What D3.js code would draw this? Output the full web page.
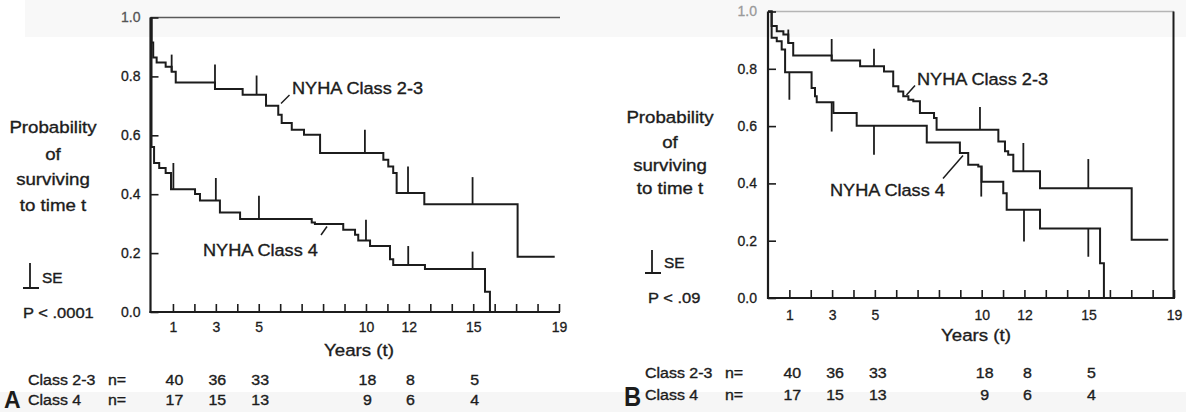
<!DOCTYPE html>
<html>
<head>
<meta charset="utf-8">
<script src="https://cdn.jsdelivr.net/npm/d3@7"></script>
<style>
  html, body { margin: 0; padding: 0; background: #fff; }
  svg { display: block; font-family: "Liberation Sans", Arial, Helvetica, sans-serif; }
</style>
</head>
<body>
<svg id="chart" width="1186" height="412"></svg>
<script>
// ---------------- data ----------------
const nYears = [1, 3, 5, 10, 12, 15];
const nClass23 = [40, 36, 33, 18, 8, 5];
const nClass4 = [17, 15, 13, 9, 6, 4];
const xTickYears = d3.range(1, 20);
const xTickLabels = [1, 3, 5, 10, 12, 15, 19];
const yTickValues = [0, 0.2, 0.4, 0.6, 0.8, 1.0];

// Panel A  (P < .0001)
const aC23Times = [0, 0.08, 0.24, 0.66, 0.94, 1.13, 2.96, 4.25, 5.34, 5.91, 6.07, 6.54, 7.11, 7.86, 10.81, 11.04, 11.27, 11.43, 12.72, 17.07];
const aC23Surv  = [0.915, 0.864, 0.847, 0.833, 0.816, 0.779, 0.757, 0.738, 0.70, 0.67, 0.642, 0.619, 0.602, 0.54, 0.517, 0.494, 0.472, 0.404, 0.366, 0.188];
const aC23End = 18.8;
const aC23SeTimes = [0.94, 2.96, 4.9, 9.95, 11.96, 14.97];
const aC23SeEnd   = [0.874, 0.84, 0.803, 0.619, 0.494, 0.458];

const aC4Times = [0, 0.12, 0.36, 0.66, 0.91, 2.03, 2.26, 3.19, 4.13, 7.47, 7.62, 8.94, 9.49, 9.64, 10.19, 11.12, 11.27, 12.75, 15.55, 15.78];
const aC4Surv  = [0.56, 0.506, 0.489, 0.472, 0.417, 0.401, 0.379, 0.338, 0.316, 0.304, 0.299, 0.279, 0.262, 0.243, 0.224, 0.179, 0.16, 0.146, 0.069, 0];
const aC4End = 15.78;
const aC4SeTimes = [1.02, 3.0, 5.01, 10.0, 11.97, 14.97];
const aC4SeEnd   = [0.506, 0.455, 0.395, 0.313, 0.224, 0.205];

// Panel B  (P < .09)
const bC23Times = [0.17, 0.41, 0.72, 0.95, 1.18, 2.98, 4.31, 5.43, 5.86, 6.10, 6.33, 6.57, 6.80, 7.11, 7.77, 7.89, 10.78, 11.09, 11.24, 11.48, 12.73, 17.02];
const bC23Surv  = [0.949, 0.931, 0.920, 0.89, 0.846, 0.829, 0.809, 0.791, 0.739, 0.721, 0.704, 0.692, 0.687, 0.646, 0.628, 0.587, 0.546, 0.512, 0.50, 0.442, 0.383, 0.203];
const bC23End = 18.73;
const bC23SeTimes = [0.95, 2.98, 4.96, 9.92, 11.95, 14.99];
const bC23SeEnd   = [0.937, 0.904, 0.87, 0.667, 0.541, 0.485];

const bC4Times = [0.17, 0.41, 0.64, 0.80, 2.04, 2.20, 2.28, 3.06, 4.15, 7.43, 8.98, 9.37, 9.84, 10.0, 11.01, 11.17, 12.73, 15.54, 15.72];
const bC4Surv  = [0.908, 0.896, 0.867, 0.788, 0.733, 0.704, 0.683, 0.646, 0.601, 0.543, 0.506, 0.465, 0.459, 0.406, 0.366, 0.308, 0.243, 0.121, 0];
const bC4End = 15.72;
const bC4SeTimes = [1.0, 2.98, 4.96, 9.98, 11.98, 14.99];
const bC4SeEnd   = [0.692, 0.581, 0.50, 0.354, 0.197, 0.144];

// ---------------- drawing ----------------
const svg = d3.select("#chart");
const INK = "#1c1c1c";
const SX = 1.1;

// faint scan background bands
svg.append("rect").attr("x", 25).attr("y", 0).attr("width", 1161).attr("height", 37).attr("fill", "#f8f8f8");
svg.append("rect").attr("x", 0).attr("y", 392).attr("width", 1186).attr("height", 20).attr("fill", "#f6f6f6");

function label(g, x, y, text, o = {}) {
  return g.append("text")
    .attr("transform", `translate(${x},${y}) scale(${o.sx || SX},${o.sy || 1})`)
    .attr("font-size", o.size || 16)
    .attr("text-anchor", o.anchor || "start")
    .attr("font-weight", o.weight || "normal")
    .attr("fill", o.fill || INK)
    .attr("stroke", o.fill || INK)
    .attr("stroke-width", o.weight === "bold" ? 0 : 0.35)
    .text(text);
}

function level(times, surv, t) {
  let s = 1;
  for (let i = 0; i < times.length; i++) if (times[i] <= t) s = surv[i];
  return s;
}

function drawPanel(p) {
  const g = svg.append("g");
  const x = d3.scaleLinear().domain([0, 19]).range(p.xRange);
  const y = d3.scaleLinear().domain([0, 1]).range(p.yRange);

  // frame
  g.append("line").attr("x1", p.axisX).attr("x2", p.topEnd).attr("y1", y(1)).attr("y2", y(1))
    .attr("stroke", p.topColor).attr("stroke-width", 1.6);
  if (p.rightFrame) {
    g.append("line").attr("x1", p.xRange[1] - 0.5).attr("x2", p.xRange[1] - 0.5).attr("y1", y(1)).attr("y2", y(0) + 1)
      .attr("stroke", INK).attr("stroke-width", 2);
  }

  // x axis
  const xAxis = d3.axisBottom(x).tickValues(xTickYears)
    .tickFormat(d => xTickLabels.includes(d) ? d : "")
    .tickSizeInner(-8).tickSizeOuter(0).tickPadding(p.xPad);
  const xg = g.append("g").attr("transform", `translate(0,${y(0)})`).call(xAxis);
  xg.select(".domain").remove();
  xg.selectAll(".tick line").attr("stroke", INK).attr("stroke-width", 1.6);
  xg.selectAll(".tick text").attr("font-size", 14).attr("fill", INK).attr("stroke", INK).attr("stroke-width", 0.3)
    .attr("font-family", "Liberation Sans, Arial, sans-serif");
  g.append("line").attr("x1", p.axisX - 1).attr("x2", p.xRange[1] + 1).attr("y1", y(0)).attr("y2", y(0))
    .attr("stroke", INK).attr("stroke-width", 2.2);

  // y axis
  const yAxis = d3.axisLeft(y).tickValues(yTickValues).tickFormat(d3.format(".1f"))
    .tickSizeInner(-8).tickSizeOuter(0).tickPadding(p.yPad);
  const yg = g.append("g").attr("transform", `translate(${p.axisX},0)`).call(yAxis);
  yg.select(".domain").remove();
  yg.selectAll(".tick line").attr("stroke", INK).attr("stroke-width", 1.6);
  yg.selectAll(".tick text").attr("font-size", 14)
    .attr("font-family", "Liberation Sans, Arial, sans-serif")
    .attr("fill", d => d === 1 ? p.oneColor : INK)
    .attr("stroke", d => d === 1 ? p.oneColor : INK).attr("stroke-width", 0.3);
  g.append("line").attr("x1", p.axisX).attr("x2", p.axisX).attr("y1", y(1)).attr("y2", y(0) + 1)
    .attr("stroke", INK).attr("stroke-width", 2.2);

  // survival curves
  const line = d3.line().x(d => x(d[0])).y(d => y(d[1])).curve(d3.curveStepAfter);
  p.curves.forEach(c => {
    const pts = [[0, 1]];
    c.times.forEach((t, i) => pts.push([t, c.surv[i]]));
    pts.push([c.end, c.surv[c.surv.length - 1]]);
    g.append("path").attr("d", line(pts)).attr("fill", "none")
      .attr("stroke", INK).attr("stroke-width", 2).attr("stroke-linejoin", "miter");
    c.seTimes.forEach((t, i) => {
      g.append("line")
        .attr("x1", x(t)).attr("x2", x(t))
        .attr("y1", y(level(c.times, c.surv, t))).attr("y2", y(c.seEnd[i]))
        .attr("stroke", INK).attr("stroke-width", 1.8);
    });
  });

  // curve labels + leaders
  p.notes.forEach(n => {
    label(g, n.x, n.y, n.text, { size: 16.5 });
    g.append("line").attr("x1", n.l[0]).attr("y1", n.l[1]).attr("x2", n.l[2]).attr("y2", n.l[3])
      .attr("stroke", INK).attr("stroke-width", 1.5);
  });

  // y title
  ["Probability", "of", "surviving", "to time t"].forEach((t, i) =>
    label(g, p.titleX, p.titleY[i], t, { size: 17, anchor: "middle" }));

  // SE key
  const k = p.se;
  g.append("line").attr("x1", k.x).attr("x2", k.x).attr("y1", k.y0).attr("y2", k.y1).attr("stroke", INK).attr("stroke-width", 1.8);
  g.append("line").attr("x1", k.x - 7).attr("x2", k.x + 9).attr("y1", k.y1).attr("y2", k.y1).attr("stroke", INK).attr("stroke-width", 2);
  label(g, k.x + 12, k.y1 - 5, "SE", { size: 14 });
  label(g, p.pX, p.pY, p.pText, { size: 15 });

  // x title
  label(g, p.yearsX, p.yearsY, "Years (t)", { size: 17, anchor: "middle" });

  // number at risk
  label(g, p.nX, p.nY[0], "Class 2-3", { size: 14.5 });
  label(g, p.nX, p.nY[1], "Class 4", { size: 14.5 });
  label(g, p.nEqX, p.nY[0], "n=", { size: 14.5 });
  label(g, p.nEqX, p.nY[1], "n=", { size: 14.5 });
  nYears.forEach((yr, i) => {
    label(g, x(yr) + p.nOff, p.nY[0], nClass23[i], { size: 14.5, anchor: "middle" });
    label(g, x(yr) + p.nOff, p.nY[1], nClass4[i], { size: 14.5, anchor: "middle" });
  });

  // panel letter
  label(g, p.letter.x, p.letter.y, p.letter.t, { size: p.letter.size, weight: "bold", sx: p.letter.sx, sy: p.letter.sy });
}

drawPanel({
  xRange: [151.5, 559], yRange: [312, 17.5], axisX: 150.5, topEnd: 560, topColor: "#5a5a5a",
  rightFrame: false, oneColor: "#555", xPad: 10, yPad: 10,
  curves: [
    { times: aC23Times, surv: aC23Surv, end: aC23End, seTimes: aC23SeTimes, seEnd: aC23SeEnd },
    { times: aC4Times, surv: aC4Surv, end: aC4End, seTimes: aC4SeTimes, seEnd: aC4SeEnd }
  ],
  notes: [
    { text: "NYHA Class 2-3", x: 292, y: 94, l: [281, 103.5, 289.5, 95] },
    { text: "NYHA Class 4", x: 203, y: 256, l: [321, 235, 327, 226.5] }
  ],
  titleX: 53, titleY: [133, 160, 185, 211],
  se: { x: 30, y0: 263, y1: 288 },
  pX: 23, pY: 318, pText: "P < .0001",
  yearsX: 359, yearsY: 356,
  nX: 28, nEqX: 108, nY: [385, 405], nOff: 1.5,
  letter: { x: 4, y: 408, t: "A", size: 23, sx: 1.0, sy: 1.0 }
});

drawPanel({
  xRange: [768, 1174], yRange: [298, 11.5], axisX: 768, topEnd: 1174, topColor: "#b5b5b5",
  rightFrame: true, oneColor: "#9a9a9a", xPad: 12, yPad: 11,
  curves: [
    { times: bC23Times, surv: bC23Surv, end: bC23End, seTimes: bC23SeTimes, seEnd: bC23SeEnd },
    { times: bC4Times, surv: bC4Surv, end: bC4End, seTimes: bC4SeTimes, seEnd: bC4SeEnd }
  ],
  notes: [
    { text: "NYHA Class 2-3", x: 917, y: 85, l: [906.5, 95, 915, 85.5] },
    { text: "NYHA Class 4", x: 830, y: 196, l: [943, 178.5, 963, 155.5] }
  ],
  titleX: 670, titleY: [123, 148, 171, 194],
  se: { x: 652, y0: 250, y1: 273 },
  pX: 648, pY: 303, pText: "P < .09",
  yearsX: 976, yearsY: 341,
  nX: 645, nEqX: 725, nY: [378, 400], nOff: 3,
  letter: { x: 624, y: 406, t: "B", size: 25, sx: 0.95, sy: 1.1 }
});
</script>
</body>
</html>
